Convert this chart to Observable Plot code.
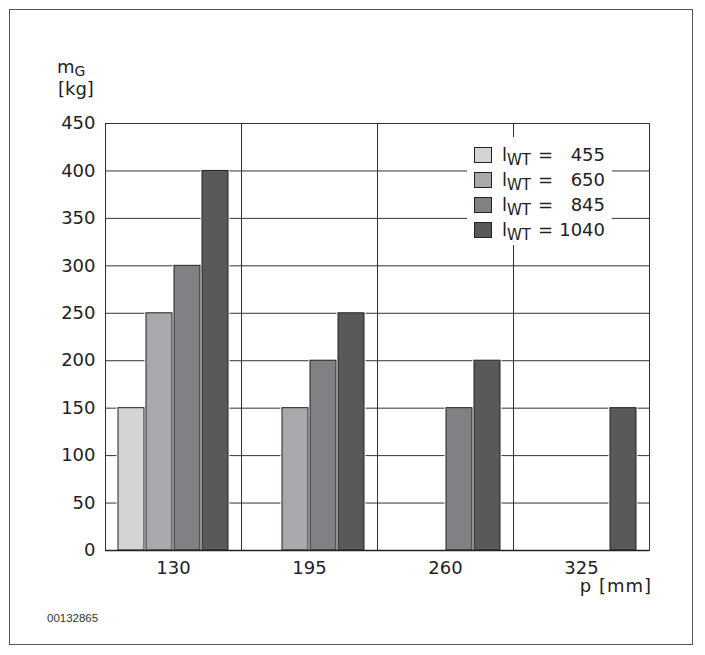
<!DOCTYPE html>
<html>
<head>
<meta charset="utf-8">
<script src="https://cdn.jsdelivr.net/npm/d3@7"></script>
<script src="https://cdn.jsdelivr.net/npm/@observablehq/plot@0.6"></script>
<style>
  html, body { margin: 0; padding: 0; background: #fff; }
  #wrap { position: relative; width: 705px; height: 655px; overflow: hidden; font-family: "DejaVu Sans", sans-serif; color: #222; }
  #wrap svg { position: absolute; left: 0; top: 0; }
  .border { position: absolute; left: 9px; top: 9px; width: 682px; height: 634px; border: 1.5px solid #555; }
  .abs { position: absolute; white-space: nowrap; }
  .legend { position: absolute; left: 467px; top: 137px; width: 145px; height: 108px; background: #fff; }
  .sw { position: absolute; width: 16px; height: 14px; border: 1px solid #222; }
</style>
</head>
<body>
<div id="wrap">
  <div class="border"></div>
</div>
<script>
// ---- data ----
const pValues = [130, 195, 260, 325];          // p [mm]
const lengths = [455, 650, 845, 1040];         // l_WT series
const m455  = [150, null, null, null];
const m650  = [250, 150, null, null];
const m845  = [300, 200, 150, null];
const m1040 = [400, 250, 200, 150];
const yTicks = [0, 50, 100, 150, 200, 250, 300, 350, 400, 450];
const colors = ["#d3d4d6", "#a8a9ac", "#808184", "#58595b"];

const series = [m455, m650, m845, m1040];
const rows = [];
series.forEach((vals, si) => {
  vals.forEach((v, pi) => {
    if (v != null) rows.push({p: pValues[pi], l: lengths[si], m: v});
  });
});

const chart = Plot.plot({
  width: 705,
  height: 655,
  marginLeft: 104,
  marginRight: 55,
  marginTop: 123,
  marginBottom: 105,
  style: {fontSize: "18px", fontFamily: "DejaVu Sans, sans-serif", color: "#222", background: "transparent"},
  fx: {domain: pValues, padding: 0, label: null, tickSize: 0, tickPadding: 11},
  x: {domain: lengths, axis: null, paddingInner: 0.07, paddingOuter: 0.39},
  y: {domain: [0, 450], ticks: yTicks, tickSize: 0, tickPadding: 10, label: null},
  color: {type: "ordinal", domain: lengths, range: colors},
  marks: [
    Plot.gridY(yTicks, {stroke: "#333", strokeOpacity: 1, strokeWidth: 1}),
    Plot.frame({stroke: "#333", strokeWidth: 1}),
    Plot.barY(rows, {fx: "p", x: "l", y: "m", fill: "l", stroke: "#fff", strokeWidth: 3}),
    Plot.barY(rows, {fx: "p", x: "l", y: "m", fill: "l", stroke: "#222", strokeWidth: 1}),
    Plot.ruleY([0], {stroke: "#222", strokeWidth: 1.5})
  ]
});
const wrap = document.getElementById("wrap");
wrap.appendChild(chart);

// axis title
function addText(html, css) {
  const d = document.createElement("div");
  d.className = "abs";
  d.innerHTML = html;
  Object.assign(d.style, css);
  wrap.appendChild(d);
  return d;
}
addText('m<span style="font-size:14px;line-height:14px;position:relative;top:3px;">G</span>', {left: "57px", top: "58px", fontSize: "18px", lineHeight: "18px"});
addText('[kg]', {left: "58px", top: "79px", fontSize: "18px", lineHeight: "20px"});
addText('p [mm]', {right: "53px", top: "575px", fontSize: "18px", letterSpacing: "1px"});
addText('00132865', {left: "47px", top: "612px", fontSize: "11.5px", fontFamily: "Liberation Sans, Arial, sans-serif", color: "#333"});

// legend
const leg = document.createElement("div");
leg.className = "legend";
wrap.appendChild(leg);
lengths.forEach((l, i) => {
  const cy = 155 + i * 25 - 137;
  const sw = document.createElement("div");
  sw.className = "sw";
  Object.assign(sw.style, {left: (474 - 467) + "px", top: (cy - 8) + "px", background: colors[i]});
  leg.appendChild(sw);
  const t = document.createElement("div");
  t.className = "abs";
  Object.assign(t.style, {left: (502 - 467) + "px", top: (cy - 10) + "px", fontSize: "18px", lineHeight: "20px"});
  t.innerHTML = 'l<span style="font-size:15px;line-height:15px;position:relative;top:4px;">WT</span>';
  leg.appendChild(t);
  const eq = document.createElement("div");
  eq.className = "abs";
  Object.assign(eq.style, {left: (538 - 467) + "px", top: (cy - 10) + "px", fontSize: "18px", lineHeight: "20px"});
  eq.textContent = "=";
  leg.appendChild(eq);
  const v = document.createElement("div");
  v.className = "abs";
  Object.assign(v.style, {right: (612 - 605) + "px", top: (cy - 10) + "px", fontSize: "18px", lineHeight: "20px", textAlign: "right"});
  v.textContent = String(l);
  leg.appendChild(v);
});
</script>
</body>
</html>
